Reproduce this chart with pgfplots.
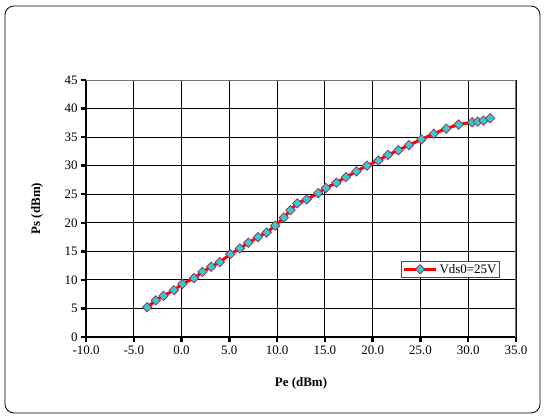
\documentclass[border=0pt]{standalone}
\usepackage{pgfplots}
\pgfplotsset{compat=1.18}
\usepackage{fontspec}
\setmainfont{Liberation Serif}
\definecolor{mkfill}{HTML}{33CCCC}
\definecolor{mkedge}{HTML}{993366}

\begin{document}
\begin{tikzpicture}
\useasboundingbox (0bp,0bp) rectangle (545bp,419bp);
\draw[black, line width=0.8bp, rounded corners=9bp] (5bp,6bp) rectangle (540bp,413bp);
\begin{axis}[
    at={(86bp,82bp)}, anchor=south west,
    scale only axis,
    width=430bp, height=257bp,
    xmin=-10, xmax=35, ymin=0, ymax=45,
    xtick={-10,-5,...,35},
    ytick={0,5,...,45},
    axis x line*=bottom, axis y line*=left,
    axis line style={line width=2.5bp, -},
    tick align=outside,
    major tick length=5bp,
    tick style={line width=2.5bp, black},
    grid=major,
    grid style={black, line width=0.8bp},
    /pgf/number format/assume math mode=true,
    xticklabel={\pgfmathprintnumber[fixed, fixed zerofill, precision=1]{\tick}},
    ticklabel style={font=\fontsize{13}{15}\selectfont},
    xlabel={\textbf{Pe (dBm)}},
    ylabel={\textbf{Ps (dBm)}},
    label style={font=\fontsize{13}{15}\selectfont},
    xlabel style={at={(axis description cs:0.5,-0.179)}, anchor=center},
    ylabel style={at={(axis description cs:-0.114,0.5)}, anchor=center},
    legend style={at={(axis description cs:0.733,0.297)}, anchor=north west,
        draw=black!70, line width=0.8bp, inner sep=1bp,
        font=\fontsize{13}{15}\selectfont},
    legend cell align=left,
    legend image code/.code={\draw[#1, mark repeat=2, mark phase=2] plot coordinates {(0bp,0bp) (16bp,0bp) (32bp,0bp)};},
]
\addplot[red, line width=3bp, mark=square*, mark size=3.3bp,
    mark options={fill=mkfill, draw=mkedge, line width=0.8bp, solid, rotate=45}]
coordinates {
(-3.6,5.2) (-2.7,6.4) (-1.9,7.2) (-0.8,8.2) (0.1,9.3) (1.3,10.3) (2.2,11.4)
(3.1,12.3) (4.0,13.1) (5.1,14.5) (6.1,15.5) (7.0,16.5) (8.0,17.5) (8.9,18.3)
(9.8,19.5) (10.7,20.9) (11.4,22.2) (12.1,23.4) (13.1,24.1) (14.3,25.2)
(15.1,26.1) (16.2,27.0) (17.2,28.0) (18.3,29.0) (19.4,30.0) (20.6,30.9)
(21.6,31.9) (22.7,32.7) (23.8,33.6) (25.1,34.6) (26.4,35.6) (27.7,36.5)
(29.0,37.2) (30.4,37.6) (31.0,37.7) (31.6,37.9) (32.3,38.3)
};
\addlegendentry{Vds0=25V}
\draw[black!55, line width=1.2bp] (rel axis cs:0,1) -- (rel axis cs:1,1) -- (rel axis cs:1,0);
\end{axis}
\end{tikzpicture}
\end{document}
